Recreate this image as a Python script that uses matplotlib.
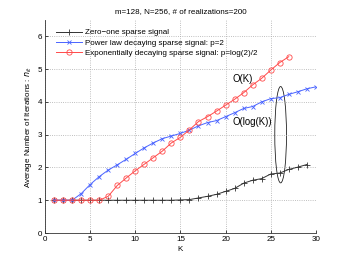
import matplotlib
matplotlib.use("Agg")
import matplotlib.pyplot as plt
from matplotlib.patches import Ellipse

plt.rcParams['font.family'] = ['Liberation Sans', 'DejaVu Sans']

K_black = list(range(1, 30))
zero_one = [1.0]*14 + [1.01, 1.02, 1.07, 1.12, 1.18, 1.27, 1.36, 1.52, 1.61, 1.66,
                       1.80, 1.83, 1.94, 2.01, 2.09]
K_blue = list(range(1, 31))
power_law = [1.0, 1.0, 1.0, 1.2, 1.48, 1.72, 1.92, 2.08, 2.25, 2.43, 2.6, 2.75, 2.88,
             2.96, 3.04, 3.14, 3.27, 3.37, 3.43, 3.55, 3.67, 3.8, 3.86, 4.0, 4.1,
             4.13, 4.23, 4.31, 4.4, 4.46]
K_red = list(range(1, 28))
exp_decay = [1.0, 1.0, 1.0, 1.0, 1.0, 1.0, 1.12, 1.45, 1.68, 1.9, 2.1, 2.3, 2.5, 2.75,
             2.92, 3.15, 3.4, 3.55, 3.72, 3.9, 4.08, 4.28, 4.52, 4.72, 4.97, 5.2, 5.38]

labels = ["Zero\u2212one sparse signal",
          "Power law decaying sparse signal: p=2",
          "Exponentially decaying sparse signal: p=log(2)/2"]
title = "m=128, N=256, # of realizations=200"

fig = plt.figure(figsize=(3.49, 2.63), dpi=100)
ax = fig.add_axes([0.129, 0.114, 0.776, 0.81])

ax.plot(K_black, zero_one, color='#333333', marker='+', ms=4.5, mew=0.6, lw=0.7, label=labels[0])
ax.plot(K_blue, power_law, color='#4a64ff', marker='x', ms=3, mew=0.6, lw=0.7, label=labels[1])
ax.plot(K_red, exp_decay, color='#ff4a4a', marker='o', ms=3.8, mew=0.6, mfc='none', lw=0.7, label=labels[2])

ax.add_patch(Ellipse((26.1, 3.0), 1.3, 2.94, fill=False, edgecolor='#222222', lw=0.6))
ax.text(20.8, 4.7, "O(K)", fontsize=6.9, va='center', ha='left')
ax.text(20.8, 3.38, "O(log(K))", fontsize=6.9, va='center', ha='left')

ax.set_xlim(0, 30)
ax.set_ylim(0, 6.5)
ax.set_xticks(range(0, 31, 5))
ax.set_yticks(range(0, 7))
ax.tick_params(direction='in', length=2.5, width=0.5, labelsize=5.8, pad=2)
ax.grid(True, linestyle=':', color='#aaaaaa', lw=0.6)
for s in ['top', 'right']:
    ax.spines[s].set_visible(False)
for s in ['left', 'bottom']:
    ax.spines[s].set_linewidth(0.6)
    ax.spines[s].set_color('#333333')

ax.set_title(title, fontsize=5.8, pad=5)
ax.set_xlabel("K", fontsize=5.8, labelpad=2.5)
ax.set_ylabel("Average Number of Iterations : $n_{it}$", fontsize=5.8, labelpad=3)

ax.legend(loc='upper left', frameon=False, fontsize=5.8, handlelength=3.2,
          borderaxespad=0.3, labelspacing=0.3, handletextpad=0.4,
          bbox_to_anchor=(0.02, 0.985))

fig.savefig("out.png", dpi=100)
